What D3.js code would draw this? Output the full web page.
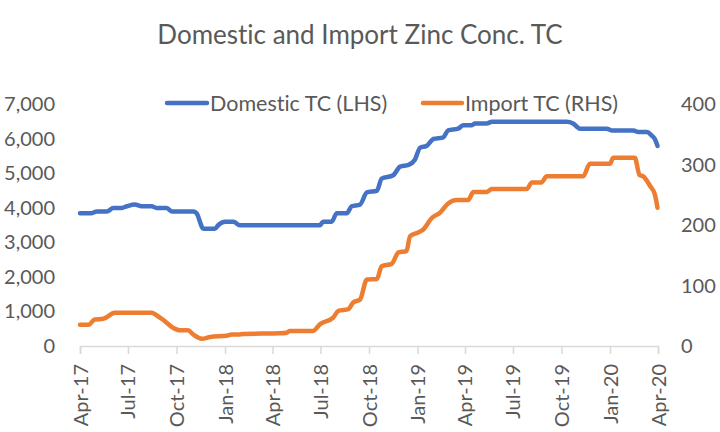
<!DOCTYPE html>
<html>
<head>
<meta charset="utf-8">
<script src="https://cdn.jsdelivr.net/npm/d3@7"></script>
<style>
  html, body { margin: 0; padding: 0; background: #fff; }
  svg { display: block; }
  text { font-family: Lato, "Open Sans", sans-serif; fill: #595959; font-variant-ligatures: none; font-feature-settings: "liga" 0, "clig" 0; }
</style>
</head>
<body>
<svg id="chart" width="720" height="432"></svg>
<script>
const title = "Domestic and Import Zinc Conc. TC";
const seriesNames = ["Domestic TC (LHS)", "Import TC (RHS)"];
const leftTicks = [0, 1000, 2000, 3000, 4000, 5000, 6000, 7000];
const rightTicks = [0, 100, 200, 300, 400];
const xTickDates = ["2017-04-01","2017-07-01","2017-10-01","2018-01-01","2018-04-01","2018-07-01","2018-10-01","2019-01-01","2019-04-01","2019-07-01","2019-10-01","2020-01-01","2020-04-01"];

const domesticDates = ["2017-04-01","2017-04-23","2017-05-03","2017-05-22","2017-06-03","2017-06-19","2017-06-29","2017-07-14","2017-07-27","2017-08-15","2017-08-24","2017-09-12","2017-09-22","2017-11-02","2017-11-08","2017-11-21","2017-12-13","2017-12-19","2018-01-01","2018-01-17","2018-01-29","2018-06-30","2018-07-06","2018-07-22","2018-08-01","2018-08-20","2018-08-29","2018-09-14","2018-09-27","2018-10-16","2018-10-25","2018-11-16","2018-11-29","2018-12-15","2018-12-27","2019-01-06","2019-01-18","2019-01-31","2019-02-19","2019-02-28","2019-03-19","2019-03-29","2019-04-14","2019-04-20","2019-05-12","2019-05-22","2019-10-11","2019-10-23","2019-11-05","2019-12-26","2020-01-04","2020-02-14","2020-02-24","2020-03-11","2020-03-20","2020-03-26","2020-03-31"];
const domesticValues = [3850,3850,3900,3900,4000,4000,4050,4100,4050,4050,4000,4000,3900,3900,3850,3400,3400,3500,3600,3600,3500,3500,3600,3600,3850,3850,4050,4100,4450,4500,4850,4950,5200,5250,5400,5750,5800,6000,6050,6250,6300,6400,6400,6450,6450,6500,6500,6450,6300,6300,6250,6250,6200,6200,6100,6000,5800];

const importDates = ["2017-04-01","2017-04-17","2017-04-29","2017-05-15","2017-06-06","2017-08-15","2017-08-24","2017-09-06","2017-09-25","2017-10-08","2017-10-23","2017-11-02","2017-11-18","2017-12-04","2018-01-04","2018-01-14","2018-01-26","2018-02-05","2018-04-15","2018-04-28","2018-05-04","2018-06-17","2018-06-30","2018-07-25","2018-08-04","2018-08-23","2018-09-01","2018-09-14","2018-09-27","2018-10-16","2018-10-25","2018-11-13","2018-11-26","2018-12-11","2018-12-18","2019-01-02","2019-01-12","2019-01-28","2019-02-13","2019-02-28","2019-03-16","2019-04-07","2019-04-17","2019-05-12","2019-05-22","2019-07-27","2019-08-06","2019-08-24","2019-09-03","2019-11-11","2019-11-24","2020-01-01","2020-01-07","2020-02-17","2020-02-26","2020-03-04","2020-03-17","2020-03-26","2020-03-31"];
const importValues = [35,35,44,45,55,55,51,43,30,26,26,19,12,15,17,19,19,20,21,22,25,25,36,47,58,61,72,77,110,111,132,136,155,157,182,188,193,212,221,236,242,242,255,255,260,260,271,271,281,281,302,302,312,312,283,281,265,251,229];

const colors = ["#4472C4", "#ED7D31"];
const parse = d3.timeParse("%Y-%m-%d");
const fmtX = d3.timeFormat("%b-%y");
const FONT = "Lato, 'Open Sans', sans-serif";

const svg = d3.select("#chart");
const x = d3.scaleTime().domain([parse("2017-04-01"), parse("2020-04-01")]).range([80, 658]);
const yL = d3.scaleLinear().domain([0, 7000]).range([346, 104.5]);
const yR = d3.scaleLinear().domain([0, 400]).range([346, 104.5]);

// title
svg.append("text").attr("x", 360).attr("y", 44).attr("text-anchor", "middle")
  .style("font-size", "26px").text(title);

// x axis
const xAxis = d3.axisBottom(x).tickValues(xTickDates.map(parse)).tickFormat(fmtX).tickSize(8).tickPadding(6);
const gx = svg.append("g").attr("transform", "translate(0,346)").call(xAxis);
gx.select(".domain").attr("stroke", "#d9d9d9").attr("stroke-width", 1.5);
gx.selectAll(".tick line").attr("stroke", "#d9d9d9").attr("stroke-width", 1.5);
gx.selectAll(".tick text")
  .style("font-size", "20px").style("font-family", FONT).attr("fill", "#595959")
  .attr("transform", "rotate(-90)").attr("text-anchor", "end").attr("x", -18).attr("y", 0).attr("dy", "0.35em");

// left axis
const yAxisL = d3.axisLeft(yL).tickValues(leftTicks).tickFormat(d3.format(",")).tickSize(0).tickPadding(25);
const gl = svg.append("g").attr("transform", "translate(80,0)").call(yAxisL);
gl.select(".domain").remove();
gl.selectAll(".tick text").style("font-size", "20px").style("font-family", FONT).attr("fill", "#595959");

// right axis
const yAxisR = d3.axisRight(yR).tickValues(rightTicks).tickSize(0).tickPadding(23);
const gr = svg.append("g").attr("transform", "translate(658,0)").call(yAxisR);
gr.select(".domain").remove();
gr.selectAll(".tick text").style("font-size", "20px").style("font-family", FONT).attr("fill", "#595959");

// lines
const domestic = domesticDates.map((d, i) => ({ date: parse(d), value: domesticValues[i] }));
const imports = importDates.map((d, i) => ({ date: parse(d), value: importValues[i] }));

const lineL = d3.line().x(d => x(d.date)).y(d => yL(d.value)).curve(d3.curveMonotoneX);
const lineR = d3.line().x(d => x(d.date)).y(d => yR(d.value)).curve(d3.curveMonotoneX);

svg.append("path").datum(imports).attr("d", lineR).attr("fill", "none")
  .attr("stroke", colors[1]).attr("stroke-width", 4.5).attr("stroke-linejoin", "round").attr("stroke-linecap", "round");
svg.append("path").datum(domestic).attr("d", lineL).attr("fill", "none")
  .attr("stroke", colors[0]).attr("stroke-width", 4.5).attr("stroke-linejoin", "round").attr("stroke-linecap", "round");

// legend
const legend = [
  { name: seriesNames[0], color: colors[0], x1: 167, x2: 207, tx: 210 },
  { name: seriesNames[1], color: colors[1], x1: 423, x2: 462, tx: 465 }
];
legend.forEach(l => {
  svg.append("line").attr("x1", l.x1).attr("x2", l.x2).attr("y1", 103).attr("y2", 103)
    .attr("stroke", l.color).attr("stroke-width", 4.5).attr("stroke-linecap", "round");
  svg.append("text").attr("x", l.tx).attr("y", 103).attr("dy", "0.36em")
    .style("font-size", "21.5px").text(l.name);
});
</script>
</body>
</html>
